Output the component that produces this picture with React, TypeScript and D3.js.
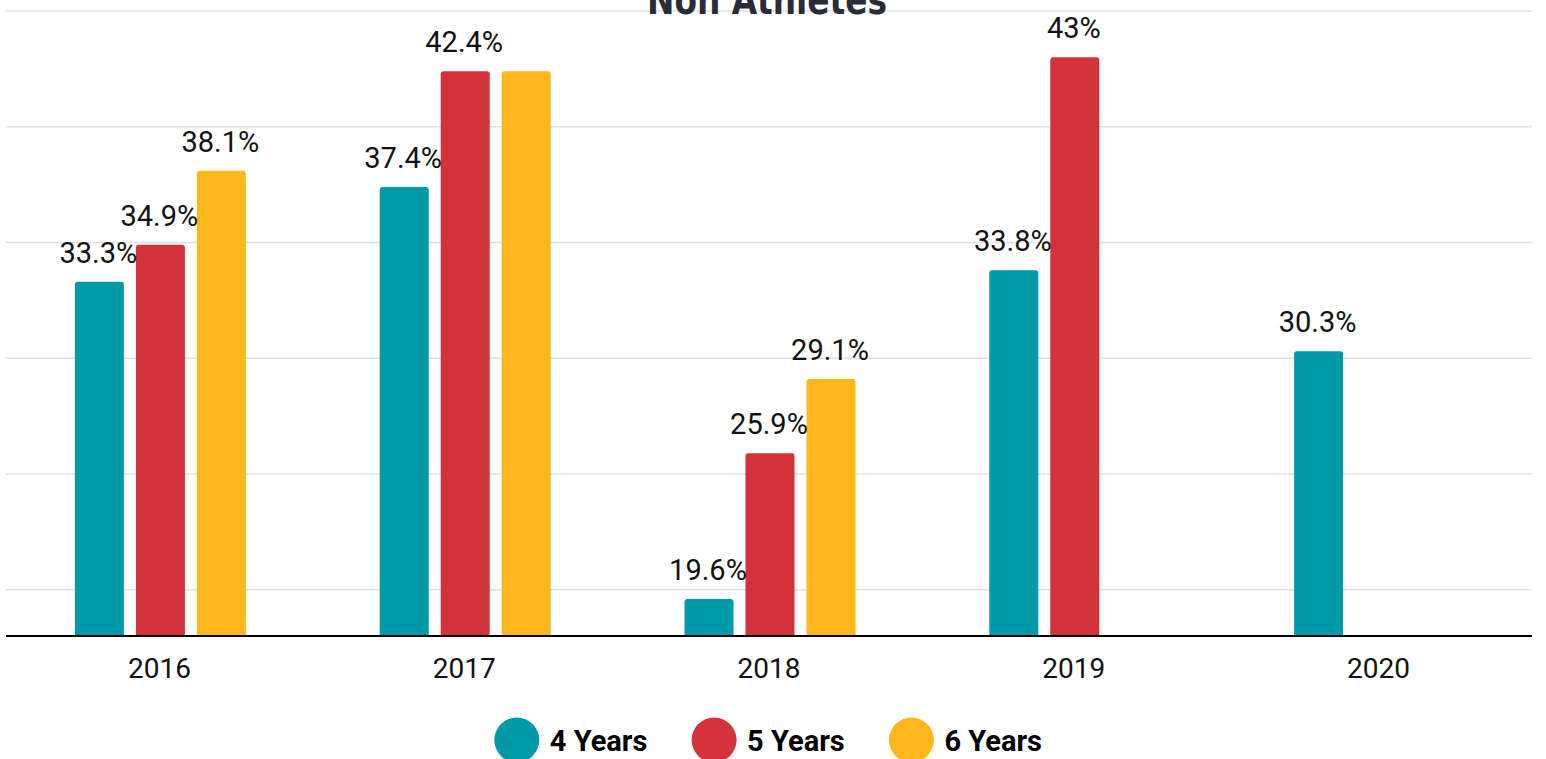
import React from "react";
import * as d3 from "d3";

const categories = ["2016", "2017", "2018", "2019", "2020"];
const seriesNames = ["4 Years", "5 Years", "6 Years"];
const fourYears: (number | null)[] = [33.3, 37.4, 19.6, 33.8, 30.3];
const fiveYears: (number | null)[] = [34.9, 42.4, 25.9, 43, null];
const sixYears: (number | null)[] = [38.1, 42.4, 29.1, null, null];
const gridTicks = [20, 25, 30, 35, 40, 45];
const colors = ["#0099a8", "#d2323a", "#fdb71b"];
const title = "Non Athletes";

const W = 1546;
const H = 759;

export default function App() {
  const series = [fourYears, fiveYears, sixYears];
  const x0 = d3.scaleBand<string>().domain(categories).range([8, 1532]).padding(0);
  const y = d3.scaleLinear().domain([18, 45]).range([636, 11]);
  const groupW = 171;
  const x1 = d3
    .scaleBand<string>()
    .domain(seriesNames)
    .range([-groupW / 2, groupW / 2])
    .paddingInner(12 / 61)
    .paddingOuter(0);
  const bw = x1.bandwidth();
  const r = 3;
  const fs = 29;

  const bars: any[] = [];
  const labels: any[] = [];
  const boxes: { x0: number; x1: number; y0: number; y1: number }[] = [];
  categories.forEach((c, ci) => {
    const cx = x0(c)! + x0.bandwidth() / 2;
    series.forEach((s, si) => {
      const v = s[ci];
      if (v == null) return;
      const bx = cx + x1(seriesNames[si])!;
      const top = y(v);
      const bottom = y(18);
      const path = `M${bx},${bottom}V${top + r}Q${bx},${top} ${bx + r},${top}H${bx + bw - r}Q${bx + bw},${top} ${bx + bw},${top + r}V${bottom}Z`;
      bars.push(<path key={`b${ci}-${si}`} d={path} fill={colors[si]} />);
      const text = `${v}%`;
      const lw = text.length * fs * 0.52;
      const lx = bx + bw / 2 - 1;
      const ly = top - 19;
      const box = { x0: lx - lw / 2, x1: lx + lw / 2, y0: ly - fs * 0.72, y1: ly };
      const hit = boxes.some(
        (b) => b.x0 < box.x1 && box.x0 < b.x1 && b.y0 < box.y1 && box.y0 < b.y1
      );
      if (!hit) {
        boxes.push(box);
        labels.push(
          <text
            key={`l${ci}-${si}`}
            x={lx}
            y={ly}
            textAnchor="middle"
            fontSize={fs}
            fill="#111"
          >
            {text}
          </text>
        );
      }
    });
  });

  return (
    <svg
      width={W}
      height={H}
      style={{ position: "absolute", left: 0, top: 0, display: "block", background: "#fff" }}
      fontFamily="Roboto, sans-serif"
    >
      {gridTicks.map((t) => (
        <line key={t} x1={6} x2={1532} y1={y(t)} y2={y(t)} stroke="#e0e0e0" strokeWidth={1.5} />
      ))}
      <text
        x={767}
        y={14}
        textAnchor="middle"
        fontSize={40}
        fontWeight="bold"
        fill="#2a2b38"
        fontFamily="'Liberation Sans Narrow', 'DejaVu Sans Condensed', sans-serif"
        style={{ fontStretch: "condensed" }}
        textLength={240}
        lengthAdjust="spacingAndGlyphs"
      >
        {title}
      </text>
      {bars}
      <line x1={6} x2={1532} y1={y(18)} y2={y(18)} stroke="#000" strokeWidth={2} />
      {categories.map((c) => (
        <text
          key={c}
          x={x0(c)! + x0.bandwidth() / 2 - 1}
          y={678}
          textAnchor="middle"
          fontSize={28}
          fill="#111"
        >
          {c}
        </text>
      ))}
      {labels}
      {seriesNames.map((n, i) => (
        <g key={n} transform={`translate(${516.8 + i * 197.3},740)`}>
          <circle r={22.5} fill={colors[i]} />
          <text x={33} y={11} fontSize={29} fontWeight="bold" fill="#000">
            {n}
          </text>
        </g>
      ))}
    </svg>
  );
}
